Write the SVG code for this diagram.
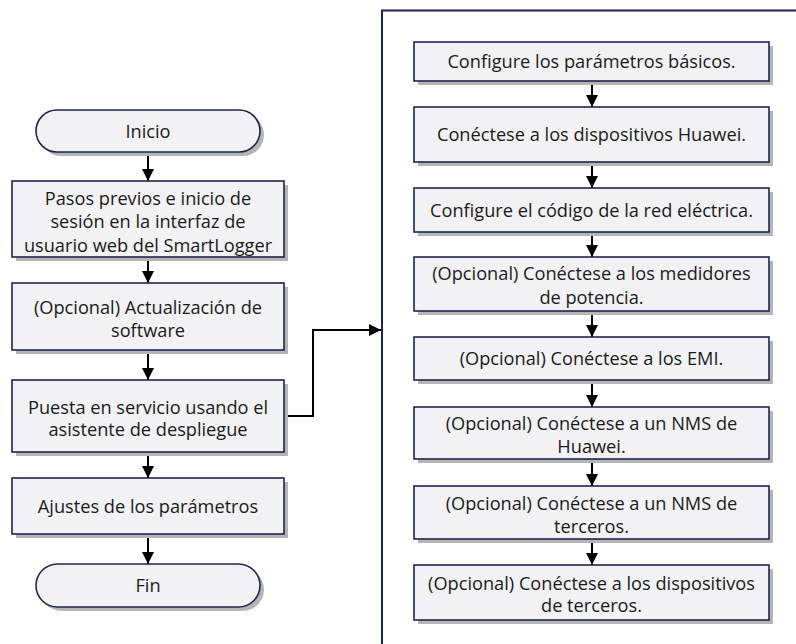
<svg xmlns="http://www.w3.org/2000/svg" width="796" height="644" viewBox="0 0 796 644">
  <defs>
    <style>
      .box { fill: #f2f2f4; stroke: #1c2550; stroke-width: 1.6; }
      .shadow { fill: #b5b5b5; }
      .txt { font-family: "Open Sans", "Noto Sans", "DejaVu Sans", sans-serif; font-size: 18.2px; fill: #1a1a1a; text-anchor: middle; }
      .line { fill: none; stroke: #000; stroke-width: 2; }
      .frame { fill: none; stroke: #1c2550; stroke-width: 2; }
    </style>
    <marker id="arr" markerUnits="userSpaceOnUse" markerWidth="12" markerHeight="12" viewBox="0 0 12 12" refX="12" refY="6" orient="auto">
      <path d="M0,0 L12,6 L0,12 z" fill="#000"/>
    </marker>
  </defs>
  <rect width="796" height="644" fill="#fff"/>

  <!-- container frame -->
  <g id="container">
    <path class="frame" d="M382,650 L382,10.5 L800,10.5"/>
  </g>

  <g id="connectors">
    <path class="line" d="M148,152 L148,181" marker-end="url(#arr)"/>
    <path class="line" d="M148,257 L148,283" marker-end="url(#arr)"/>
    <path class="line" d="M148,350 L148,380" marker-end="url(#arr)"/>
    <path class="line" d="M148,452 L148,478" marker-end="url(#arr)"/>
    <path class="line" d="M148,534 L148,564" marker-end="url(#arr)"/>
    <path class="line" d="M284,416 L313,416 L313,330 L381,330" marker-end="url(#arr)"/>
    <path class="line" d="M592,81 L592,107" marker-end="url(#arr)"/>
    <path class="line" d="M592,162 L592,188" marker-end="url(#arr)"/>
    <path class="line" d="M592,232 L592,257" marker-end="url(#arr)"/>
    <path class="line" d="M592,311 L592,337" marker-end="url(#arr)"/>
    <path class="line" d="M592,380 L592,407" marker-end="url(#arr)"/>
    <path class="line" d="M592,459 L592,486" marker-end="url(#arr)"/>
    <path class="line" d="M592,539 L592,565" marker-end="url(#arr)"/>
  </g>

  <!-- left column -->
  <g id="inicio">
    <rect class="shadow" x="40" y="114" width="224" height="42" rx="21"/>
    <rect class="box" x="36" y="110" width="224" height="42" rx="21"/>
    <text class="txt" x="148" y="137.5">Inicio</text>
  </g>
  <g id="pasos">
    <rect class="shadow" x="16" y="185" width="272" height="76"/>
    <rect class="box" x="12" y="181" width="272" height="76"/>
    <text class="txt" x="148" y="204.5">Pasos previos e inicio de</text>
    <text class="txt" x="148" y="228">sesión en la interfaz de</text>
    <text class="txt" x="148" y="251.5">usuario web del SmartLogger</text>
  </g>
  <g id="actualizacion">
    <rect class="shadow" x="16" y="287" width="272" height="67"/>
    <rect class="box" x="12" y="283" width="272" height="67"/>
    <text class="txt" x="148" y="313.5">(Opcional) Actualización de</text>
    <text class="txt" x="148" y="336.5">software</text>
  </g>
  <g id="puesta">
    <rect class="shadow" x="16" y="384" width="272" height="72"/>
    <rect class="box" x="12" y="380" width="272" height="72"/>
    <text class="txt" x="148" y="413.5">Puesta en servicio usando el</text>
    <text class="txt" x="148" y="436">asistente de despliegue</text>
  </g>
  <g id="ajustes">
    <rect class="shadow" x="16" y="482" width="272" height="56"/>
    <rect class="box" x="12" y="478" width="272" height="56"/>
    <text class="txt" x="148" y="512.5">Ajustes de los parámetros</text>
  </g>
  <g id="fin">
    <rect class="shadow" x="40" y="568" width="224" height="43" rx="21.5"/>
    <rect class="box" x="36" y="564" width="224" height="43" rx="21.5"/>
    <text class="txt" x="148" y="592">Fin</text>
  </g>

  <!-- right column -->
  <g id="basicos">
    <rect class="shadow" x="418" y="46" width="355" height="39"/>
    <rect class="box" x="414" y="42" width="355" height="39"/>
    <text class="txt" x="591.5" y="68">Configure los parámetros básicos.</text>
  </g>
  <g id="huawei">
    <rect class="shadow" x="418" y="111" width="355" height="55"/>
    <rect class="box" x="414" y="107" width="355" height="55"/>
    <text class="txt" x="591.5" y="141">Conéctese a los dispositivos Huawei.</text>
  </g>
  <g id="codigo">
    <rect class="shadow" x="418" y="192" width="355" height="44"/>
    <rect class="box" x="414" y="188" width="355" height="44"/>
    <text class="txt" x="591.5" y="216.5">Configure el código de la red eléctrica.</text>
  </g>
  <g id="medidores">
    <rect class="shadow" x="418" y="261" width="355" height="54"/>
    <rect class="box" x="414" y="257" width="355" height="54"/>
    <text class="txt" x="591.5" y="279.5">(Opcional) Conéctese a los medidores</text>
    <text class="txt" x="591.5" y="303.5">de potencia.</text>
  </g>
  <g id="emi">
    <rect class="shadow" x="418" y="341" width="355" height="43"/>
    <rect class="box" x="414" y="337" width="355" height="43"/>
    <text class="txt" x="591.5" y="365">(Opcional) Conéctese a los EMI.</text>
  </g>
  <g id="nms-huawei">
    <rect class="shadow" x="418" y="411" width="355" height="52"/>
    <rect class="box" x="414" y="407" width="355" height="52"/>
    <text class="txt" x="591.5" y="429.5">(Opcional) Conéctese a un NMS de</text>
    <text class="txt" x="591.5" y="452.5">Huawei.</text>
  </g>
  <g id="nms-terceros">
    <rect class="shadow" x="418" y="490" width="355" height="53"/>
    <rect class="box" x="414" y="486" width="355" height="53"/>
    <text class="txt" x="591.5" y="509.5">(Opcional) Conéctese a un NMS de</text>
    <text class="txt" x="591.5" y="532.5">terceros.</text>
  </g>
  <g id="dispositivos-terceros">
    <rect class="shadow" x="418" y="569" width="355" height="55"/>
    <rect class="box" x="414" y="565" width="355" height="55"/>
    <text class="txt" x="591.5" y="589.5">(Opcional) Conéctese a los dispositivos</text>
    <text class="txt" x="591.5" y="611.5">de terceros.</text>
  </g>
</svg>
